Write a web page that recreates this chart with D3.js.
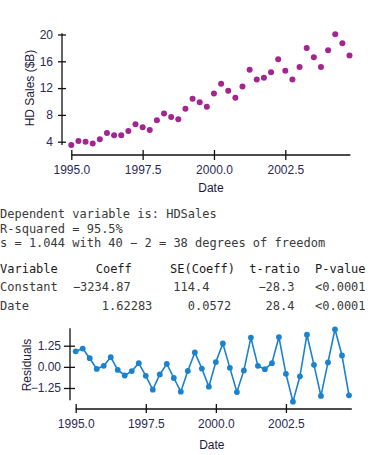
<!DOCTYPE html>
<html>
<head>
<meta charset="utf-8">
<script src="https://cdn.jsdelivr.net/npm/d3@7"></script>
<style>
  html, body { margin: 0; padding: 0; background: #fff; }
  svg { display: block; }
  .tk text { font-family: "Liberation Sans Narrow", "Arial Narrow", "Liberation Sans", sans-serif; font-stretch: condensed; font-size: 12px; fill: #2a2a55; }
  .lab { font-family: "Liberation Sans Narrow", "Arial Narrow", "Liberation Sans", sans-serif; font-stretch: condensed; font-size: 12px; fill: #1a1a3a; }
  .mono { font-family: "DejaVu Sans Mono", monospace; font-size: 12px; fill: #3a3a3a; }
</style>
</head>
<body>
<script>
// ---- Data ----
const dates = d3.range(40).map(i => 1995 + i / 4); // quarterly dates 1995.0 .. 2004.75
const hdSales = [3.5, 4.1, 4.0, 3.75, 4.35, 5.3, 4.95, 4.95, 5.6, 6.6,
                 6.15, 5.75, 7.2, 8.2, 7.7, 7.35, 8.9, 10.4, 9.9, 9.2,
                 11.2, 12.65, 11.6, 10.55, 12.25, 14.75, 13.3, 13.55, 14.35, 16.3,
                 14.6, 13.3, 15.15, 18.0, 16.6, 15.15, 17.65, 20.05, 18.7, 16.85];
const residuals = [0.92, 1.08, 0.51, -0.12, 0.06, 0.57, -0.18, -0.51, -0.25, 0.22,
                   -0.53, -1.35, -0.45, 0.18, -0.66, -1.47, -0.24, 0.85, -0.1, -1.17,
                   0.28, 1.38, -0.06, -1.49, -0.21, 1.73, 0.06, -0.14, 0.22, 1.76,
                   -0.41, -2.06, -0.56, 1.9, 0.12, -1.72, 0.26, 2.22, 0.67, -1.68];
const xTicks = [1995, 1997.5, 2000, 2002.5];
const yTicksSales = [4, 8, 12, 16, 20];
const yTicksResid = [-1.25, 0, 1.25];
const summaryLines = [
  "Dependent variable is: HDSales",
  "R-squared = 95.5%",
  "s = 1.044 with 40 \u2212 2 = 38 degrees of freedom"
];
const tableHeader = ["Variable", "Coeff", "SE(Coeff)", "t-ratio", "P-value"];
const tableRows = [
  ["Constant", "\u22123234.87", "114.4", "\u221228.3", "<0.0001"],
  ["Date", "1.62283", "0.0572", "28.4", "<0.0001"]
];

// ---- Drawing ----
const W = 378, H = 455;
const svg = d3.select("body").append("svg").attr("width", W).attr("height", H);

function styleAxis(g, inner, outer, vertical) {
  g.select(".domain").remove();
  g.attr("class", "tk");
  g.selectAll(".tick line").attr("stroke", "#111").attr("stroke-width", 1.3);
  if (vertical) g.selectAll(".tick line").attr("x1", inner).attr("x2", -outer);
  else g.selectAll(".tick line").attr("y1", -inner).attr("y2", outer);
}

// Top scatter
const x1 = d3.scaleLinear().domain([1995, 2004.75]).range([71.3, 349.5]);
const y1 = d3.scaleLinear().domain([4, 20]).range([141.7, 34.5]);

const gx1 = svg.append("g").attr("transform", "translate(0,155)")
  .call(d3.axisBottom(x1).tickValues(xTicks).tickFormat(d3.format(".1f")).tickSize(5).tickPadding(5));
styleAxis(gx1, 5, 5, false);
svg.append("line").attr("x1", x1(1995)).attr("x2", x1(2004.78)).attr("y1", 155).attr("y2", 155)
  .attr("stroke", "#111").attr("stroke-width", 1.3);

const gy1 = svg.append("g").attr("transform", "translate(62,0)")
  .call(d3.axisLeft(y1).tickValues(yTicksSales).tickFormat(d3.format("d")).tickSize(4).tickPadding(5));
styleAxis(gy1, 4, 4, true);
svg.append("line").attr("x1", 62).attr("x2", 62).attr("y1", y1(20.2)).attr("y2", y1(3.5))
  .attr("stroke", "#111").attr("stroke-width", 1.3);

svg.append("g").selectAll("circle").data(hdSales).join("circle")
  .attr("cx", (d, i) => x1(dates[i])).attr("cy", d => y1(d)).attr("r", 3)
  .attr("fill", "#a3258f");

svg.append("text").attr("class", "lab").attr("x", x1(2000) - 3).attr("y", 192)
  .attr("text-anchor", "middle").text("Date");
svg.append("text").attr("class", "lab").attr("transform", "translate(34,88) rotate(-90)")
  .attr("text-anchor", "middle").text("HD Sales ($B)");

// Text output
svg.append("g").selectAll("text").data(summaryLines).join("text")
  .attr("class", "mono").attr("x", 0).attr("y", (d, i) => 218 + i * 14.6)
  .attr("xml:space", "preserve").text(d => d);

const headerX = [0, 95.7, 170, 249.3, 315];
svg.append("g").selectAll("text").data(tableHeader).join("text")
  .attr("class", "mono").style("fill", "#1a1a1a").attr("x", (d, i) => headerX[i]).attr("y", 273)
  .text(d => d);

const charW = 7.224;
function cellX(col, s) {
  if (col === 0) return { x: 0, anchor: "start" };
  if (col === 1 || col === 2) {
    const dec = col === 1 ? 109 : 195;
    const k = s.indexOf(".");
    return { x: dec - k * charW, anchor: "start" };
  }
  if (col === 3) return { x: 294.5, anchor: "end" };
  return { x: 315, anchor: "start" };
}
tableRows.forEach((row, r) => {
  svg.append("g").selectAll("text").data(row).join("text")
    .attr("class", "mono")
    .attr("x", (d, i) => cellX(i, d).x)
    .attr("text-anchor", (d, i) => cellX(i, d).anchor)
    .attr("y", 291 + r * 18.5)
    .text(d => d);
});

// Residual plot
const x2 = d3.scaleLinear().domain([1995, 2004.75]).range([75.7, 349]);
const y2 = d3.scaleLinear().domain([-1.25, 1.25]).range([388, 345.7]);

const gx2 = svg.append("g").attr("transform", "translate(0,409)")
  .call(d3.axisBottom(x2).tickValues(xTicks).tickFormat(d3.format(".1f")).tickSize(4).tickPadding(6));
styleAxis(gx2, 5, 4, false);
svg.append("line").attr("x1", x2(1995)).attr("x2", x2(2004.85)).attr("y1", 409).attr("y2", 409)
  .attr("stroke", "#111").attr("stroke-width", 1.3);

const gy2 = svg.append("g").attr("transform", "translate(70,0)")
  .call(d3.axisLeft(y2).tickValues(yTicksResid).tickFormat(d3.format(".2f")).tickSize(6).tickPadding(3));
styleAxis(gy2, 5, 6, true);
svg.append("line").attr("x1", 70).attr("x2", 70).attr("y1", y2(2.28)).attr("y2", y2(-1.98))
  .attr("stroke", "#111").attr("stroke-width", 1.3);

svg.append("path").datum(residuals)
  .attr("d", d3.line().x((d, i) => x2(dates[i])).y(d => y2(d)))
  .attr("fill", "none").attr("stroke", "#1a82cf").attr("stroke-width", 1.6);
svg.append("g").selectAll("circle").data(residuals).join("circle")
  .attr("cx", (d, i) => x2(dates[i])).attr("cy", d => y2(d)).attr("r", 2.9)
  .attr("fill", "#1a82cf");

svg.append("text").attr("class", "lab").attr("x", x2(2000) - 4).attr("y", 449)
  .attr("text-anchor", "middle").text("Date");
svg.append("text").attr("class", "lab").attr("transform", "translate(31,365) rotate(-90)")
  .attr("text-anchor", "middle").text("Residuals");
</script>
</body>
</html>
